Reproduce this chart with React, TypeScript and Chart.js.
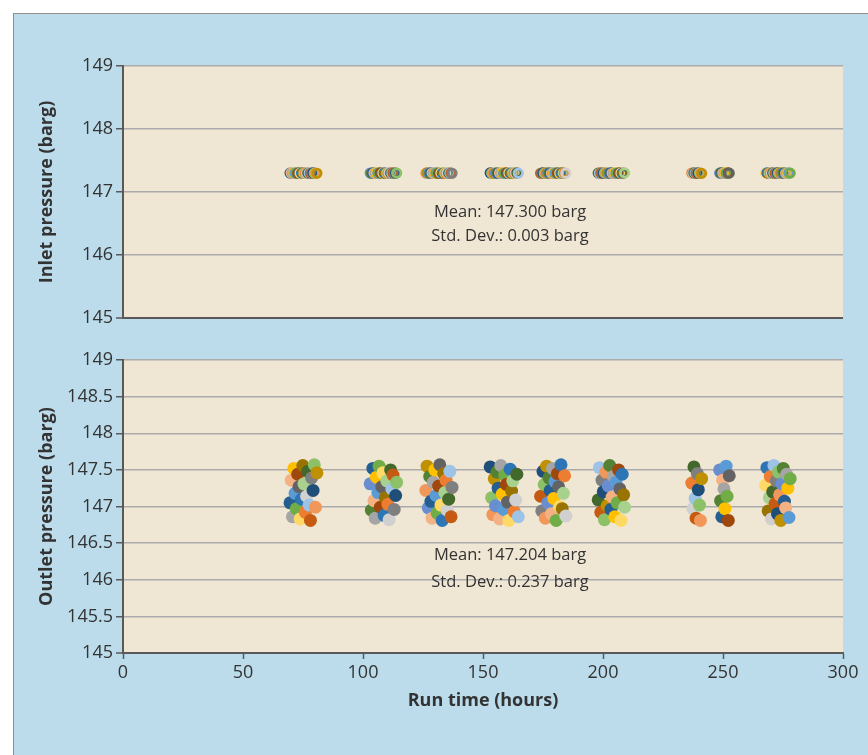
import React, { useEffect, useRef } from "react";
import { Chart, registerables } from "chart.js";

Chart.register(...registerables);

// ---------- DATA ----------
const runHours = [
  // run 1
  69.6, 70.1, 70.6, 71.2, 71.7, 72.2, 72.8, 73.3, 73.8, 74.4, 74.9, 75.4, 76.0, 76.5, 77.0, 77.6, 78.1, 78.6, 79.2, 79.7, 80.2, 80.8,
  // run 2
  103.0, 103.5, 104.1, 104.6, 105.1, 105.6, 106.2, 106.7, 107.2, 107.8, 108.3, 108.8, 109.3, 109.9, 110.4, 110.9, 111.5, 112.0, 112.5, 113.0, 113.6, 114.0,
  // run 3
  126.2, 126.7, 127.2, 127.8, 128.3, 128.8, 129.3, 129.9, 130.4, 130.9, 131.5, 132.0, 132.5, 133.0, 133.6, 134.1, 134.6, 135.1, 135.7, 136.2, 136.7, 137.1,
  // run 4
  153.0, 153.6, 154.1, 154.7, 155.2, 155.8, 156.3, 156.9, 157.4, 158.0, 158.6, 159.1, 159.7, 160.2, 160.8, 161.3, 161.9, 162.4, 163.0, 163.6, 164.1, 164.7,
  // run 5
  174.0, 174.5, 175.0, 175.5, 176.0, 176.5, 177.0, 177.5, 178.0, 178.5, 179.0, 179.5, 180.0, 180.5, 181.0, 181.5, 182.0, 182.5, 183.0, 183.5, 184.0, 184.5,
  // run 6
  198.0, 198.5, 199.1, 199.6, 200.1, 200.6, 201.2, 201.7, 202.2, 202.8, 203.3, 203.8, 204.3, 204.9, 205.4, 205.9, 206.5, 207.0, 207.5, 208.0, 208.6, 209.0,
  // run 7
  237.0, 237.5, 237.9, 238.4, 238.8, 239.3, 239.7, 240.2, 240.6, 241.1,
  // run 8
  248.6, 249.0, 249.5, 249.9, 250.4, 250.8, 251.3, 251.7, 252.2, 252.6,
  // run 9
  267.8, 268.3, 268.8, 269.3, 269.7, 270.2, 270.7, 271.2, 271.7, 272.2, 272.7, 273.1, 273.6, 274.1, 274.6, 275.1, 275.6, 276.1, 276.5, 277.0, 277.5, 278.0,
];

const inletPressure = [
  147.300, 147.302, 147.297, 147.301, 147.299, 147.304, 147.296, 147.302, 147.298, 147.300, 147.303, 147.299, 147.301, 147.297, 147.300, 147.302, 147.298, 147.301, 147.304, 147.299, 147.300, 147.297,
  147.301, 147.298, 147.303, 147.300, 147.296, 147.302, 147.299, 147.301, 147.304, 147.298, 147.300, 147.302, 147.297, 147.301, 147.299, 147.303, 147.300, 147.298, 147.302, 147.296, 147.300, 147.301,
  147.299, 147.302, 147.300, 147.297, 147.303, 147.301, 147.298, 147.300, 147.304, 147.299, 147.296, 147.301, 147.302, 147.298, 147.300, 147.303, 147.297, 147.301, 147.299, 147.302, 147.300, 147.298,
  147.302, 147.299, 147.301, 147.297, 147.300, 147.304, 147.298, 147.301, 147.299, 147.302, 147.296, 147.300, 147.303, 147.298, 147.301, 147.300, 147.297, 147.302, 147.299, 147.301, 147.304, 147.300,
  147.298, 147.301, 147.303, 147.300, 147.297, 147.302, 147.299, 147.300, 147.301, 147.296, 147.302, 147.298, 147.300, 147.304, 147.299, 147.301, 147.297, 147.300, 147.302, 147.298, 147.301, 147.299,
  147.300, 147.297, 147.302, 147.301, 147.298, 147.303, 147.300, 147.299, 147.296, 147.301, 147.302, 147.298, 147.300, 147.304, 147.297, 147.301, 147.299, 147.302, 147.300, 147.298, 147.301, 147.303,
  147.301, 147.298, 147.302, 147.300, 147.297, 147.303, 147.299, 147.301, 147.300, 147.296,
  147.299, 147.302, 147.300, 147.297, 147.301, 147.304, 147.298, 147.300, 147.302, 147.299,
  147.300, 147.303, 147.298, 147.301, 147.299, 147.296, 147.302, 147.300, 147.297, 147.301, 147.304, 147.299, 147.300, 147.302, 147.298, 147.301, 147.300, 147.297, 147.303, 147.299, 147.301, 147.300,
];

const outletPressure = [
  147.05, 147.36, 146.86, 147.52, 147.18, 146.97, 147.44, 147.27, 146.83, 147.10, 147.56, 147.31, 146.92, 147.14, 147.48, 147.02, 146.81, 147.39, 147.22, 147.57, 146.99, 147.46,
  147.31, 146.95, 147.52, 147.08, 146.84, 147.40, 147.19, 147.55, 146.99, 147.27, 147.46, 146.88, 147.12, 147.35, 147.03, 146.82, 147.50, 147.24, 147.43, 146.96, 147.15, 147.33,
  147.22, 147.55, 146.98, 147.41, 147.07, 146.84, 147.33, 147.50, 147.15, 146.91, 147.28, 147.57, 147.02, 146.81, 147.45, 147.19, 147.36, 146.95, 147.10, 147.48, 146.86, 147.26,
  147.54, 147.12, 146.89, 147.38, 147.01, 147.47, 147.25, 146.83, 147.56, 147.17, 146.96, 147.43, 147.30, 147.06, 146.81, 147.51, 147.21, 147.35, 146.93, 147.09, 147.44, 146.86,
  147.14, 146.94, 147.48, 147.30, 146.84, 147.55, 147.05, 147.39, 147.22, 146.90, 147.52, 147.11, 147.34, 146.81, 147.45, 147.27, 147.00, 147.57, 146.97, 147.18, 147.42, 146.87,
  147.09, 147.53, 146.92, 147.36, 147.20, 146.82, 147.47, 147.01, 147.28, 147.56, 146.96, 147.13, 147.41, 146.86, 147.33, 147.05, 147.50, 147.24, 146.81, 147.44, 147.16, 146.99,
  147.32, 146.97, 147.54, 147.11, 146.84, 147.45, 147.23, 147.02, 146.81, 147.38,
  147.50, 147.08, 146.86, 147.36, 147.24, 146.97, 147.55, 147.14, 146.81, 147.42,
  147.29, 147.53, 146.94, 147.12, 147.41, 146.83, 147.20, 147.56, 147.04, 147.35, 146.90, 147.47, 147.16, 146.81, 147.31, 147.52, 147.07, 146.98, 147.44, 147.25, 146.85, 147.38,
];

const xTicks = [0, 50, 100, 150, 200, 250, 300];
const inletTicks = [145, 146, 147, 148, 149];
const outletTicks = [145, 145.5, 146, 146.5, 147, 147.5, 148, 148.5, 149];

const inletTitle = "Inlet pressure (barg)";
const outletTitle = "Outlet pressure (barg)";
const xTitle = "Run time (hours)";
const inletStats = ["Mean: 147.300 barg", "Std. Dev.: 0.003 barg"];
const outletStats = ["Mean: 147.204 barg", "Std. Dev.: 0.237 barg"];

const pointColors = [
  "#255E91", "#F4B183", "#A5A5A5", "#FFC000", "#5B9BD5", "#70AD47", "#9E480E", "#636363",
  "#FFD966", "#2E75B6", "#997300", "#A9D18E", "#ED7D31", "#D0D0D0", "#43682B", "#9DC3E6",
  "#C55A11", "#7F7F7F", "#1F4E79", "#8CC168", "#F1975A", "#BF9000", "#698ED0", "#548235",
];

// ---------- STYLE ----------
const FONT = "'Open Sans', 'Noto Sans', sans-serif";
const TEXT = "#333333";
const AXIS = "#595959";
const GRID = "#ababab";
const PLOT_BG = "#efe6d4";
const PANEL_BG = "#bcdcec";

Chart.defaults.font.family = FONT;
Chart.defaults.color = TEXT;

const plotBackground = {
  id: "plotBackground",
  beforeDraw(chart: any) {
    const { ctx, chartArea } = chart;
    ctx.save();
    ctx.fillStyle = PLOT_BG;
    ctx.fillRect(chartArea.left, chartArea.top, chartArea.right - chartArea.left, chartArea.bottom - chartArea.top);
    ctx.restore();
  },
};

function statsPlugin(lines: string[], xVal: number, yVals: number[]) {
  return {
    id: "statsText",
    afterDatasetsDraw(chart: any) {
      const { ctx, scales } = chart;
      ctx.save();
      ctx.font = `16.5px ${FONT}`;
      ctx.fillStyle = TEXT;
      ctx.textAlign = "center";
      ctx.textBaseline = "middle";
      lines.forEach((t, i) => {
        ctx.fillText(t, scales.x.getPixelForValue(xVal), scales.y.getPixelForValue(yVals[i]));
      });
      ctx.restore();
    },
  };
}

function yAxis(title: string, ticks: number[]) {
  return {
    type: "linear",
    min: 145,
    max: 149,
    afterBuildTicks: (s: any) => {
      s.ticks = ticks.map((v) => ({ value: v }));
    },
    afterFit: (s: any) => {
      s.width = 123;
    },
    ticks: { color: TEXT, font: { size: 18 }, padding: 3, callback: (v: any) => String(v) },
    grid: {
      color: (c: any) => (c.tick && c.tick.value === 145 ? AXIS : GRID),
      lineWidth: (c: any) => (c.tick && c.tick.value === 145 ? 2 : 1.5),
      tickColor: AXIS,
      tickLength: 7,
      tickWidth: 1.5,
    },
    border: { color: AXIS, width: 2 },
    title: {
      display: true,
      text: title,
      color: TEXT,
      font: { size: 18, weight: "bold" },
      padding: { top: 36, bottom: 0 },
    },
  };
}

function PressureChart(props: {
  kind: "inlet" | "outlet";
  top: number;
  height: number;
}) {
  const ref = useRef<HTMLCanvasElement | null>(null);
  useEffect(() => {
    if (!ref.current) return;
    const inlet = props.kind === "inlet";
    const values = inlet ? inletPressure : outletPressure;
    const data = runHours.map((x, i) => ({ x, y: values[i] }));
    const chart = new Chart(ref.current, {
      type: "scatter",
      data: {
        datasets: [
          {
            data,
            showLine: false,
            pointRadius: inlet ? 4.2 : 6.5,
            pointHoverRadius: inlet ? 4.2 : 6.5,
            pointBorderWidth: inlet ? 2.8 : 0,
            pointBackgroundColor: inlet
              ? "rgba(0,0,0,0)"
              : (c: any) => pointColors[c.dataIndex % pointColors.length],
            pointBorderColor: (c: any) => pointColors[c.dataIndex % pointColors.length],
          } as any,
        ],
      },
      options: {
        animation: false,
        responsive: true,
        maintainAspectRatio: false,
        events: [],
        layout: inlet
          ? { padding: { top: 66, bottom: 22, left: 0, right: 25 } }
          : { padding: { top: 20, bottom: 32, left: 0, right: 25 } },
        plugins: { legend: { display: false }, tooltip: { enabled: false } },
        scales: {
          x: inlet
            ? { type: "linear", min: 0, max: 300, display: false }
            : {
                type: "linear",
                min: 0,
                max: 300,
                afterBuildTicks: (s: any) => {
                  s.ticks = xTicks.map((v) => ({ value: v }));
                },
                afterFit: (s: any) => {
                  s.height = 70;
                },
                ticks: { color: TEXT, font: { size: 18 }, padding: 3, maxRotation: 0, callback: (v: any) => String(v) },
                grid: { drawOnChartArea: false, drawTicks: true, tickLength: 6, tickColor: AXIS, tickWidth: 1.5 },
                border: { color: AXIS, width: 2 },
                title: {
                  display: true,
                  text: xTitle,
                  color: TEXT,
                  font: { size: 18, weight: "bold" },
                  padding: { top: 0, bottom: 11 },
                },
              },
          y: yAxis(inlet ? inletTitle : outletTitle, inlet ? inletTicks : outletTicks),
        } as any,
      },
      plugins: [
        plotBackground,
        inlet
          ? statsPlugin(inletStats, 161.25, [146.68, 146.3])
          : statsPlugin(outletStats, 161.25, [146.33, 145.97]),
      ],
    });
    return () => chart.destroy();
  }, []);
  return (
    <div style={{ position: "absolute", left: 0, top: props.top, width: 868, height: props.height }}>
      <canvas ref={ref} />
    </div>
  );
}

export default function App() {
  return (
    <div
      style={{
        position: "absolute",
        left: 0,
        top: 0,
        width: 868,
        height: 755,
        overflow: "hidden",
        background: "#ffffff",
        fontFamily: FONT,
      }}
    >
      <div
        style={{
          position: "absolute",
          left: 13,
          top: 13,
          width: 868,
          height: 755,
          background: PANEL_BG,
          borderLeft: "1.5px solid #8f8f8f",
          borderTop: "1.5px solid #8f8f8f",
        }}
      />
      <PressureChart kind="inlet" top={0} height={340} />
      <PressureChart kind="outlet" top={340} height={415} />
    </div>
  );
}
